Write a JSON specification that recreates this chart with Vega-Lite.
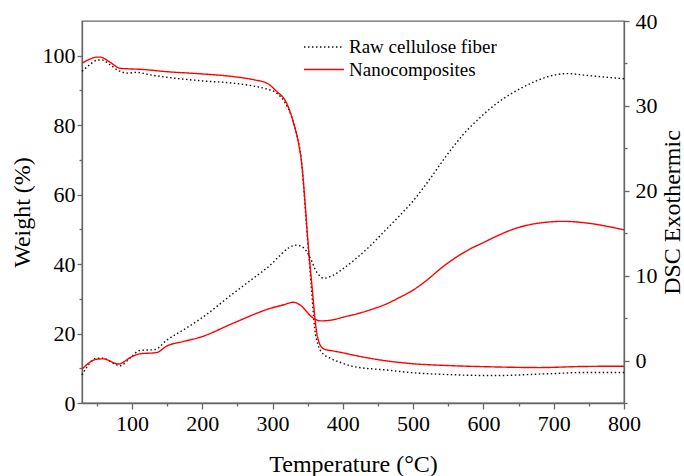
{
  "$schema": "https://vega.github.io/schema/vega-lite/v6.json",
  "width": 542,
  "height": 382,
  "autosize": {"type": "none"},
  "padding": {"left": 82, "top": 21, "right": 60, "bottom": 73},
  "background": "white",
  "config": {
    "font": "Liberation Serif",
    "view": {"stroke": "#666", "strokeWidth": 1.3},
    "axis": {
      "domainColor": "#666", "tickColor": "#666", "domainWidth": 1.3, "tickWidth": 1.3,
      "labelColor": "black", "titleColor": "black",
      "labelFont": "Liberation Serif", "titleFont": "Liberation Serif",
      "labelFontSize": 22, "titleFontSize": 24, "titleFontWeight": "normal",
      "grid": false, "labelFlush": false, "labelOverlap": false
    },
    "legend": {
      "orient": "none", "legendX": 231, "legendY": 15, "direction": "vertical",
      "labelFont": "Liberation Serif", "labelFontSize": 19, "labelColor": "black",
      "symbolType": "M-2,0H2", "symbolSize": 400, "symbolStrokeWidth": 1.4, "symbolFillColor": "transparent",
      "labelOffset": 14, "rowPadding": 1.5, "padding": 0
    }
  },
  "datasets": {
    "tga": [
      {"T": 29, "v": 95.5, "s": "Raw cellulose fiber"},
      {"T": 40, "v": 97.4, "s": "Raw cellulose fiber"},
      {"T": 50, "v": 98.7, "s": "Raw cellulose fiber"},
      {"T": 57, "v": 98.8, "s": "Raw cellulose fiber"},
      {"T": 69, "v": 97.4, "s": "Raw cellulose fiber"},
      {"T": 81, "v": 95.7, "s": "Raw cellulose fiber"},
      {"T": 94, "v": 95.0, "s": "Raw cellulose fiber"},
      {"T": 107, "v": 95.2, "s": "Raw cellulose fiber"},
      {"T": 126, "v": 94.5, "s": "Raw cellulose fiber"},
      {"T": 150, "v": 93.8, "s": "Raw cellulose fiber"},
      {"T": 197, "v": 92.8, "s": "Raw cellulose fiber"},
      {"T": 244, "v": 92.1, "s": "Raw cellulose fiber"},
      {"T": 272, "v": 91.3, "s": "Raw cellulose fiber"},
      {"T": 292, "v": 90.4, "s": "Raw cellulose fiber"},
      {"T": 306, "v": 89.2, "s": "Raw cellulose fiber"},
      {"T": 318, "v": 86.4, "s": "Raw cellulose fiber"},
      {"T": 327, "v": 82.5, "s": "Raw cellulose fiber"},
      {"T": 334, "v": 77.7, "s": "Raw cellulose fiber"},
      {"T": 342, "v": 68.1, "s": "Raw cellulose fiber"},
      {"T": 346, "v": 57.5, "s": "Raw cellulose fiber"},
      {"T": 350, "v": 46.9, "s": "Raw cellulose fiber"},
      {"T": 355, "v": 34.0, "s": "Raw cellulose fiber"},
      {"T": 360, "v": 21.5, "s": "Raw cellulose fiber"},
      {"T": 365, "v": 16.6, "s": "Raw cellulose fiber"},
      {"T": 370, "v": 14.6, "s": "Raw cellulose fiber"},
      {"T": 382, "v": 12.9, "s": "Raw cellulose fiber"},
      {"T": 399, "v": 11.5, "s": "Raw cellulose fiber"},
      {"T": 415, "v": 10.5, "s": "Raw cellulose fiber"},
      {"T": 462, "v": 9.5, "s": "Raw cellulose fiber"},
      {"T": 500, "v": 8.7, "s": "Raw cellulose fiber"},
      {"T": 548, "v": 8.2, "s": "Raw cellulose fiber"},
      {"T": 614, "v": 7.9, "s": "Raw cellulose fiber"},
      {"T": 690, "v": 8.4, "s": "Raw cellulose fiber"},
      {"T": 747, "v": 8.8, "s": "Raw cellulose fiber"},
      {"T": 800, "v": 8.8, "s": "Raw cellulose fiber"},
      {"T": 29, "v": 97.9, "s": "Nanocomposites"},
      {"T": 40, "v": 99.0, "s": "Nanocomposites"},
      {"T": 50, "v": 99.6, "s": "Nanocomposites"},
      {"T": 55, "v": 99.6, "s": "Nanocomposites"},
      {"T": 69, "v": 98.1, "s": "Nanocomposites"},
      {"T": 83, "v": 96.4, "s": "Nanocomposites"},
      {"T": 97, "v": 96.2, "s": "Nanocomposites"},
      {"T": 111, "v": 96.1, "s": "Nanocomposites"},
      {"T": 150, "v": 95.4, "s": "Nanocomposites"},
      {"T": 197, "v": 94.8, "s": "Nanocomposites"},
      {"T": 244, "v": 94.0, "s": "Nanocomposites"},
      {"T": 273, "v": 93.1, "s": "Nanocomposites"},
      {"T": 292, "v": 92.1, "s": "Nanocomposites"},
      {"T": 306, "v": 89.7, "s": "Nanocomposites"},
      {"T": 320, "v": 86.4, "s": "Nanocomposites"},
      {"T": 330, "v": 80.6, "s": "Nanocomposites"},
      {"T": 337, "v": 74.8, "s": "Nanocomposites"},
      {"T": 342, "v": 68.1, "s": "Nanocomposites"},
      {"T": 346, "v": 58.5, "s": "Nanocomposites"},
      {"T": 350, "v": 47.5, "s": "Nanocomposites"},
      {"T": 356, "v": 34.0, "s": "Nanocomposites"},
      {"T": 362, "v": 21.5, "s": "Nanocomposites"},
      {"T": 368, "v": 16.6, "s": "Nanocomposites"},
      {"T": 374, "v": 15.5, "s": "Nanocomposites"},
      {"T": 386, "v": 15.0, "s": "Nanocomposites"},
      {"T": 399, "v": 14.5, "s": "Nanocomposites"},
      {"T": 415, "v": 13.8, "s": "Nanocomposites"},
      {"T": 453, "v": 12.4, "s": "Nanocomposites"},
      {"T": 500, "v": 11.3, "s": "Nanocomposites"},
      {"T": 548, "v": 10.8, "s": "Nanocomposites"},
      {"T": 614, "v": 10.4, "s": "Nanocomposites"},
      {"T": 680, "v": 10.2, "s": "Nanocomposites"},
      {"T": 737, "v": 10.5, "s": "Nanocomposites"},
      {"T": 800, "v": 10.6, "s": "Nanocomposites"}
    ],
    "dsc": [
      {"T": 29, "v": -1.7, "s": "Raw cellulose fiber"},
      {"T": 50, "v": 0.28, "s": "Raw cellulose fiber"},
      {"T": 59, "v": 0.28, "s": "Raw cellulose fiber"},
      {"T": 73, "v": -0.31, "s": "Raw cellulose fiber"},
      {"T": 83, "v": -0.62, "s": "Raw cellulose fiber"},
      {"T": 97, "v": 0.28, "s": "Raw cellulose fiber"},
      {"T": 111, "v": 1.18, "s": "Raw cellulose fiber"},
      {"T": 133, "v": 1.3, "s": "Raw cellulose fiber"},
      {"T": 150, "v": 2.43, "s": "Raw cellulose fiber"},
      {"T": 173, "v": 3.6, "s": "Raw cellulose fiber"},
      {"T": 199, "v": 5.0, "s": "Raw cellulose fiber"},
      {"T": 244, "v": 7.9, "s": "Raw cellulose fiber"},
      {"T": 292, "v": 10.9, "s": "Raw cellulose fiber"},
      {"T": 334, "v": 13.6, "s": "Raw cellulose fiber"},
      {"T": 344, "v": 13.3, "s": "Raw cellulose fiber"},
      {"T": 353, "v": 12.2, "s": "Raw cellulose fiber"},
      {"T": 363, "v": 10.4, "s": "Raw cellulose fiber"},
      {"T": 373, "v": 9.7, "s": "Raw cellulose fiber"},
      {"T": 385, "v": 10.0, "s": "Raw cellulose fiber"},
      {"T": 400, "v": 10.8, "s": "Raw cellulose fiber"},
      {"T": 420, "v": 12.1, "s": "Raw cellulose fiber"},
      {"T": 440, "v": 13.6, "s": "Raw cellulose fiber"},
      {"T": 460, "v": 15.3, "s": "Raw cellulose fiber"},
      {"T": 480, "v": 17.0, "s": "Raw cellulose fiber"},
      {"T": 500, "v": 18.8, "s": "Raw cellulose fiber"},
      {"T": 524, "v": 21.4, "s": "Raw cellulose fiber"},
      {"T": 548, "v": 24.2, "s": "Raw cellulose fiber"},
      {"T": 571, "v": 26.6, "s": "Raw cellulose fiber"},
      {"T": 595, "v": 28.6, "s": "Raw cellulose fiber"},
      {"T": 619, "v": 30.3, "s": "Raw cellulose fiber"},
      {"T": 643, "v": 31.6, "s": "Raw cellulose fiber"},
      {"T": 666, "v": 32.6, "s": "Raw cellulose fiber"},
      {"T": 690, "v": 33.4, "s": "Raw cellulose fiber"},
      {"T": 719, "v": 33.8, "s": "Raw cellulose fiber"},
      {"T": 747, "v": 33.6, "s": "Raw cellulose fiber"},
      {"T": 785, "v": 33.3, "s": "Raw cellulose fiber"},
      {"T": 800, "v": 33.2, "s": "Raw cellulose fiber"},
      {"T": 29, "v": -1.0, "s": "Nanocomposites"},
      {"T": 50, "v": 0.16, "s": "Nanocomposites"},
      {"T": 59, "v": 0.2, "s": "Nanocomposites"},
      {"T": 81, "v": -0.4, "s": "Nanocomposites"},
      {"T": 100, "v": 0.47, "s": "Nanocomposites"},
      {"T": 111, "v": 0.79, "s": "Nanocomposites"},
      {"T": 135, "v": 0.94, "s": "Nanocomposites"},
      {"T": 150, "v": 1.73, "s": "Nanocomposites"},
      {"T": 173, "v": 2.24, "s": "Nanocomposites"},
      {"T": 199, "v": 2.8, "s": "Nanocomposites"},
      {"T": 244, "v": 4.4, "s": "Nanocomposites"},
      {"T": 299, "v": 6.2, "s": "Nanocomposites"},
      {"T": 315, "v": 6.55, "s": "Nanocomposites"},
      {"T": 330, "v": 6.87, "s": "Nanocomposites"},
      {"T": 339, "v": 6.55, "s": "Nanocomposites"},
      {"T": 358, "v": 5.0, "s": "Nanocomposites"},
      {"T": 368, "v": 4.67, "s": "Nanocomposites"},
      {"T": 386, "v": 4.8, "s": "Nanocomposites"},
      {"T": 400, "v": 5.1, "s": "Nanocomposites"},
      {"T": 420, "v": 5.5, "s": "Nanocomposites"},
      {"T": 440, "v": 6.0, "s": "Nanocomposites"},
      {"T": 460, "v": 6.6, "s": "Nanocomposites"},
      {"T": 480, "v": 7.4, "s": "Nanocomposites"},
      {"T": 500, "v": 8.3, "s": "Nanocomposites"},
      {"T": 520, "v": 9.5, "s": "Nanocomposites"},
      {"T": 540, "v": 10.9, "s": "Nanocomposites"},
      {"T": 560, "v": 12.1, "s": "Nanocomposites"},
      {"T": 580, "v": 13.1, "s": "Nanocomposites"},
      {"T": 600, "v": 13.9, "s": "Nanocomposites"},
      {"T": 620, "v": 14.7, "s": "Nanocomposites"},
      {"T": 640, "v": 15.4, "s": "Nanocomposites"},
      {"T": 660, "v": 15.9, "s": "Nanocomposites"},
      {"T": 690, "v": 16.3, "s": "Nanocomposites"},
      {"T": 714, "v": 16.4, "s": "Nanocomposites"},
      {"T": 747, "v": 16.2, "s": "Nanocomposites"},
      {"T": 800, "v": 15.4, "s": "Nanocomposites"}
    ]
  },
  "layer": [
    {
      "data": {"name": "tga"},
      "mark": {"type": "line", "interpolate": "monotone", "strokeWidth": 1.4},
      "encoding": {
        "x": {
          "field": "T", "type": "quantitative",
          "scale": {"domain": [29, 800], "nice": false, "zero": false},
          "axis": {
            "title": "Temperature (°C)",
            "values": [50, 100, 150, 200, 250, 300, 350, 400, 450, 500, 550, 600, 650, 700, 750, 800],
            "labelExpr": "datum.value % 100 === 0 ? datum.label : ''",
            "tickSize": {"condition": {"test": "datum.value % 100 === 0", "value": 6}, "value": 3},
            "labelPadding": 4,
            "titleX": 271, "titleY": 68, "titleBaseline": "alphabetic"
          }
        },
        "y": {
          "field": "v", "type": "quantitative",
          "scale": {"domain": [0, 110], "nice": false, "zero": false},
          "axis": {
            "title": "Weight (%)",
            "values": [0, 10, 20, 30, 40, 50, 60, 70, 80, 90, 100],
            "labelExpr": "datum.value % 20 === 0 ? datum.label : ''",
            "tickSize": {"condition": {"test": "datum.value % 20 === 0", "value": 5}, "value": 3},
            "labelPadding": 2,
            "titleAngle": -90, "titleX": -53, "titleY": 191, "titleBaseline": "alphabetic"
          }
        },
        "color": {
          "field": "s", "type": "nominal",
          "scale": {"domain": ["Raw cellulose fiber", "Nanocomposites"], "range": ["#111111", "#ff0000"]},
          "legend": {"title": null}
        },
        "strokeDash": {
          "field": "s", "type": "nominal",
          "scale": {"domain": ["Raw cellulose fiber", "Nanocomposites"], "range": [[1.5, 2.5], [1, 0]]},
          "legend": {"title": null}
        }
      }
    },
    {
      "data": {"name": "dsc"},
      "mark": {"type": "line", "interpolate": "monotone", "strokeWidth": 1.4},
      "encoding": {
        "x": {
          "field": "T", "type": "quantitative",
          "scale": {"domain": [29, 800], "nice": false, "zero": false},
          "axis": {
            "title": "Temperature (°C)",
            "values": [50, 100, 150, 200, 250, 300, 350, 400, 450, 500, 550, 600, 650, 700, 750, 800],
            "labelExpr": "datum.value % 100 === 0 ? datum.label : ''",
            "tickSize": {"condition": {"test": "datum.value % 100 === 0", "value": 6}, "value": 3},
            "labelPadding": 4,
            "titleX": 271, "titleY": 68, "titleBaseline": "alphabetic"
          }
        },
        "y": {
          "field": "v", "type": "quantitative",
          "scale": {"domain": [-5, 40], "nice": false, "zero": false},
          "axis": {
            "orient": "right",
            "title": "DSC Exothermic",
            "values": [-5, 0, 5, 10, 15, 20, 25, 30, 35, 40],
            "labelExpr": "datum.value % 10 === 0 ? datum.label : ''",
            "tickSize": {"condition": {"test": "datum.value % 10 === 0", "value": 5}, "value": 3},
            "labelPadding": 6,
            "titleAngle": -90, "titleX": 55, "titleY": 191, "titleBaseline": "alphabetic"
          }
        },
        "color": {
          "field": "s", "type": "nominal",
          "scale": {"domain": ["Raw cellulose fiber", "Nanocomposites"], "range": ["#111111", "#ff0000"]},
          "legend": {"title": null}
        },
        "strokeDash": {
          "field": "s", "type": "nominal",
          "scale": {"domain": ["Raw cellulose fiber", "Nanocomposites"], "range": [[1.5, 2.5], [1, 0]]},
          "legend": {"title": null}
        }
      }
    }
  ],
  "resolve": {"scale": {"y": "independent"}}
}
